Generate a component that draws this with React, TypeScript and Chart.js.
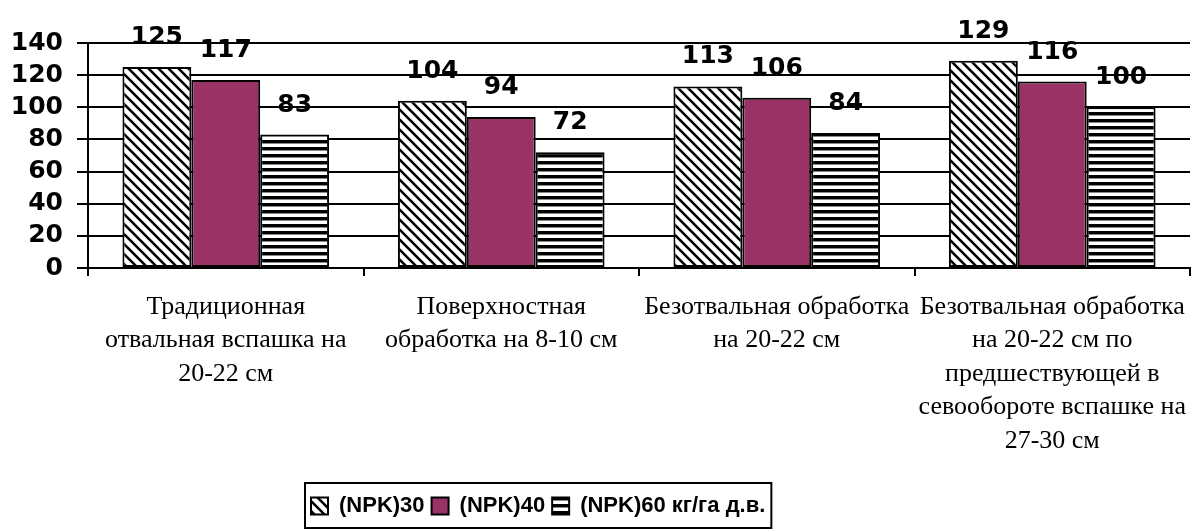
import React, { useEffect, useRef } from "react";
import { Chart, registerables } from "chart.js";

Chart.register(...registerables);

const categories: string[][] = [
  ["Традиционная", "отвальная вспашка на", "20-22 см"],
  ["Поверхностная", "обработка на 8-10 см"],
  ["Безотвальная обработка", "на 20-22 см"],
  ["Безотвальная обработка", "на 20-22 см по", "предшествующей в", "севообороте вспашке на", "27-30 см"],
];
const seriesNames = ["(NPK)30", "(NPK)40", "(NPK)60 кг/га д.в."];
const npk30 = [125, 104, 113, 129];
const npk40 = [117, 94, 106, 116];
const npk60 = [83, 72, 84, 100];
const yMin = 0;
const yMax = 140;
const yStep = 20;

function makeDiag(ctx: CanvasRenderingContext2D): CanvasPattern | string {
  const c = document.createElement("canvas");
  c.width = 10;
  c.height = 10;
  const g = c.getContext("2d")!;
  g.fillStyle = "#fff";
  g.fillRect(0, 0, 10, 10);
  g.strokeStyle = "#000";
  g.lineWidth = 2.6;
  g.beginPath();
  g.moveTo(-5, -5);
  g.lineTo(15, 15);
  g.moveTo(-5, 5);
  g.lineTo(5, 15);
  g.moveTo(5, -5);
  g.lineTo(15, 5);
  g.stroke();
  return ctx.createPattern(c, "repeat") || "#fff";
}

function makeHoriz(ctx: CanvasRenderingContext2D): CanvasPattern | string {
  const c = document.createElement("canvas");
  c.width = 8;
  c.height = 7;
  const g = c.getContext("2d")!;
  g.fillStyle = "#fff";
  g.fillRect(0, 0, 8, 7);
  g.fillStyle = "#000";
  g.fillRect(0, 0, 8, 3);
  g.fillStyle = "#888";
  g.fillRect(0, 3, 8, 1);
  return ctx.createPattern(c, "repeat") || "#fff";
}

const valueLabels = {
  id: "valueLabels",
  afterDatasetsDraw(chart: any) {
    const ctx = chart.ctx;
    ctx.save();
    ctx.font = 'bold 25px "DejaVu Sans"';
    ctx.fillStyle = "#000";
    ctx.textAlign = "center";
    ctx.textBaseline = "alphabetic";
    chart.data.datasets.forEach((ds: any, i: number) => {
      const meta = chart.getDatasetMeta(i);
      meta.data.forEach((el: any, j: number) => {
        ctx.fillText(String(ds.data[j]), el.x, el.y - 23);
      });
    });
    ctx.restore();
  },
};

const LEGEND_LEFT = 304;
const FRAME_MARGIN = 6;

const legendShift = {
  id: "legendShift",
  afterLayout(chart: any) {
    const lg = chart.legend;
    if (lg) {
      lg.left = LEGEND_LEFT;
    }
  },
};

const legendFrame = {
  id: "legendFrame",
  afterDraw(chart: any) {
    const lg = chart.legend;
    if (!lg || !lg.legendHitBoxes || !lg.legendHitBoxes.length) return;
    const hb = lg.legendHitBoxes;
    const left = Math.min(...hb.map((b: any) => b.left)) - FRAME_MARGIN;
    const right = Math.max(...hb.map((b: any) => b.left + b.width)) + FRAME_MARGIN;
    const top = 483;
    const bottom = Math.max(...hb.map((b: any) => b.top + b.height)) + 11;
    const ctx = chart.ctx;
    ctx.save();
    ctx.strokeStyle = "#000";
    ctx.lineWidth = 2;
    ctx.strokeRect(left, top, right - left, bottom - top);
    ctx.restore();
  },
};

export default function App() {
  const ref = useRef<HTMLCanvasElement | null>(null);
  useEffect(() => {
    const canvas = ref.current!;
    const ctx = canvas.getContext("2d")!;
    const diag = makeDiag(ctx);
    const horiz = makeHoriz(ctx);
    const chart = new Chart(canvas, {
      type: "bar",
      data: {
        labels: categories,
        datasets: [
          {
            label: seriesNames[0],
            data: npk30,
            backgroundColor: diag as any,
            borderColor: "#000",
            borderWidth: 2,
            borderSkipped: false,
          },
          {
            label: seriesNames[1],
            data: npk40,
            backgroundColor: "#993366",
            borderColor: "#000",
            borderWidth: 2,
            borderSkipped: false,
          },
          {
            label: seriesNames[2],
            data: npk60,
            backgroundColor: horiz as any,
            borderColor: "#000",
            borderWidth: 2,
            borderSkipped: false,
          },
        ],
      },
      options: {
        animation: false,
        responsive: true,
        maintainAspectRatio: false,
        layout: { padding: { top: 43, left: 11, right: 2, bottom: 2 } },
        datasets: { bar: { categoryPercentage: 0.75, barPercentage: 1 } },
        plugins: {
          tooltip: { enabled: false },
          legend: {
            position: "bottom",
            align: "start",
            labels: {
              color: "#000",
              boxWidth: 17,
              boxHeight: 17,
              padding: 7,
              font: { family: '"Liberation Sans", Arial, sans-serif', size: 22, weight: "bold" },
            },
          },
        },
        scales: {
          x: {
            afterFit: (scale: any) => {
              scale.height = 220;
              scale.paddingLeft = 0;
              scale.paddingRight = 0;
            },
            grid: {
              display: true,
              drawOnChartArea: false,
              drawTicks: true,
              tickLength: 8,
              color: "#000",
              lineWidth: 2,
              offset: true,
            },
            border: { display: true, color: "#000", width: 2 },
            ticks: {
              color: "#000",
              maxRotation: 0,
              autoSkip: false,
              padding: 14,
              font: { family: '"Liberation Serif", "Times New Roman", serif', size: 26, lineHeight: 1.29 },
            },
          },
          y: {
            min: yMin,
            max: yMax,
            afterFit: (scale: any) => {
              scale.width = 77;
            },
            grid: {
              color: "#000",
              lineWidth: 2,
              drawTicks: true,
              tickLength: 11,
            },
            border: { display: true, color: "#000", width: 2 },
            ticks: {
              stepSize: yStep,
              autoSkip: false,
              color: "#000",
              padding: 14,
              font: { family: '"DejaVu Sans", sans-serif', size: 25, weight: "bold" },
            },
          },
        },
      },
      plugins: [valueLabels, legendShift, legendFrame],
    });
    return () => chart.destroy();
  }, []);
  return (
    <div style={{ position: "absolute", left: 0, top: 0, width: 1192, height: 529, background: "#fff" }}>
      <canvas ref={ref} />
    </div>
  );
}
